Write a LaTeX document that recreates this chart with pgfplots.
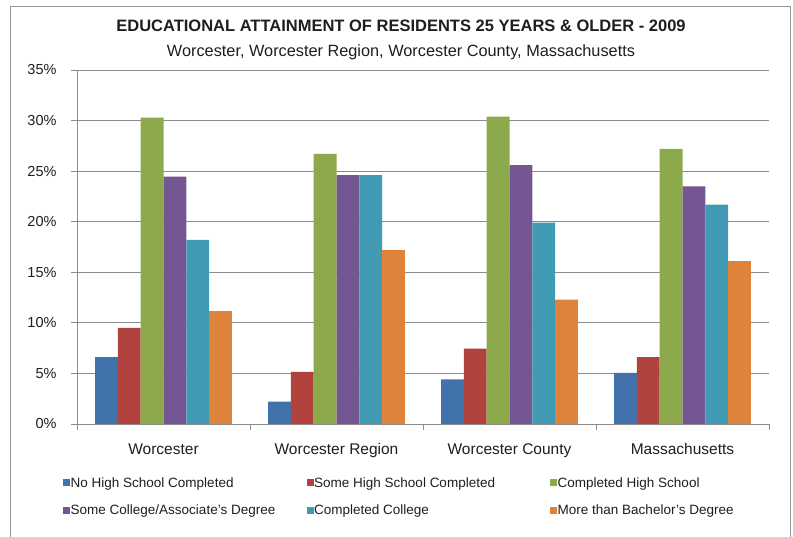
\documentclass[border=0pt]{standalone}
\usepackage{fontspec}
\setmainfont{Liberation Sans}
\usepackage{pgfplots}
\pgfplotsset{compat=1.18}
\definecolor{cBlue}{RGB}{66,114,172}
\definecolor{cRed}{RGB}{178,66,61}
\definecolor{cGreen}{RGB}{140,170,76}
\definecolor{cPurple}{RGB}{116,86,146}
\definecolor{cTeal}{RGB}{64,154,179}
\definecolor{cOrange}{RGB}{222,132,58}
\definecolor{frameC}{RGB}{150,150,150}
\definecolor{gridC}{RGB}{140,140,140}
\definecolor{txt}{RGB}{30,30,30}
\newcommand{\lc}[1]{\makebox[235.5pt][l]{#1}}
\begin{document}
\begin{tikzpicture}[x=1pt,y=1pt]
\path[use as bounding box] (0,0) rectangle (793,537);
\draw[frameC, line width=1pt] (10,-5) -- (10,530) -- (790,530) -- (790,-5);
\node[txt, font=\bfseries\fontsize{16.5}{18}\selectfont, anchor=base, inner sep=0pt] at (401,505) {EDUCATIONAL ATTAINMENT OF RESIDENTS 25 YEARS \& OLDER - 2009};
\node[txt, font=\fontsize{16.3}{18}\selectfont, anchor=base, inner sep=0pt] at (401,480) {Worcester, Worcester Region, Worcester County, Massachusetts};
\begin{axis}[
  at={(77pt,113pt)}, anchor=south west,
  width=692pt, height=354pt, scale only axis,
  xmin=-0.5, xmax=3.5, ymin=0, ymax=35,
  ybar=0pt, bar width=22.8pt,
  axis x line*=bottom, axis y line*=left,
  axis line style={gridC, line width=0.8pt},
  ymajorgrids, grid style={gridC, line width=0.8pt},
  ytick={0,5,...,35},
  yticklabel={\pgfmathprintnumber{\tick}\%},
  /pgf/number format/assume math mode=true,
  yticklabel style={font=\fontsize{14.5}{16}\selectfont, txt, xshift=-11pt},
  xtick={0,1,2,3},
  xticklabels={Worcester, Worcester Region, Worcester County, Massachusetts},
  xticklabel style={font=\fontsize{15.5}{17}\selectfont, txt, yshift=-10pt},
  minor xtick={-0.5,0.5,1.5,2.5,3.5},
  tick align=outside,
  major tick length=6pt, minor tick length=6pt,
  major x tick style={draw=none},
  tick style={gridC, line width=0.8pt},
  legend columns=3,
  legend style={at={(axis description cs:-0.0202,-0.1485)}, anchor=north west,
    draw=none, fill=none, inner sep=0pt,
    font=\fontsize{13.5}{15}\selectfont, text=txt,
    nodes={inner sep=0.5pt},
    row sep=15pt},
  legend cell align=left,
  legend image code/.code={\fill[#1] (0pt,-3.5pt) rectangle (7pt,3.5pt);},
  every axis plot/.append style={draw=none},
]
\addplot[fill=cBlue] coordinates {(0,6.6) (1,2.2) (2,4.4) (3,5.05)};
\addplot[fill=cRed] coordinates {(0,9.5) (1,5.15) (2,7.45) (3,6.6)};
\addplot[fill=cGreen] coordinates {(0,30.3) (1,26.7) (2,30.4) (3,27.2)};
\addplot[fill=cPurple] coordinates {(0,24.45) (1,24.6) (2,25.6) (3,23.5)};
\addplot[fill=cTeal] coordinates {(0,18.2) (1,24.6) (2,19.9) (3,21.7)};
\addplot[fill=cOrange] coordinates {(0,11.15) (1,17.2) (2,12.3) (3,16.1)};
\legend{\lc{No High School Completed}, \lc{Some High School Completed}, Completed High School, \lc{Some College/Associate's Degree}, \lc{Completed College}, More than Bachelor's Degree}
\end{axis}
\end{tikzpicture}
\end{document}
